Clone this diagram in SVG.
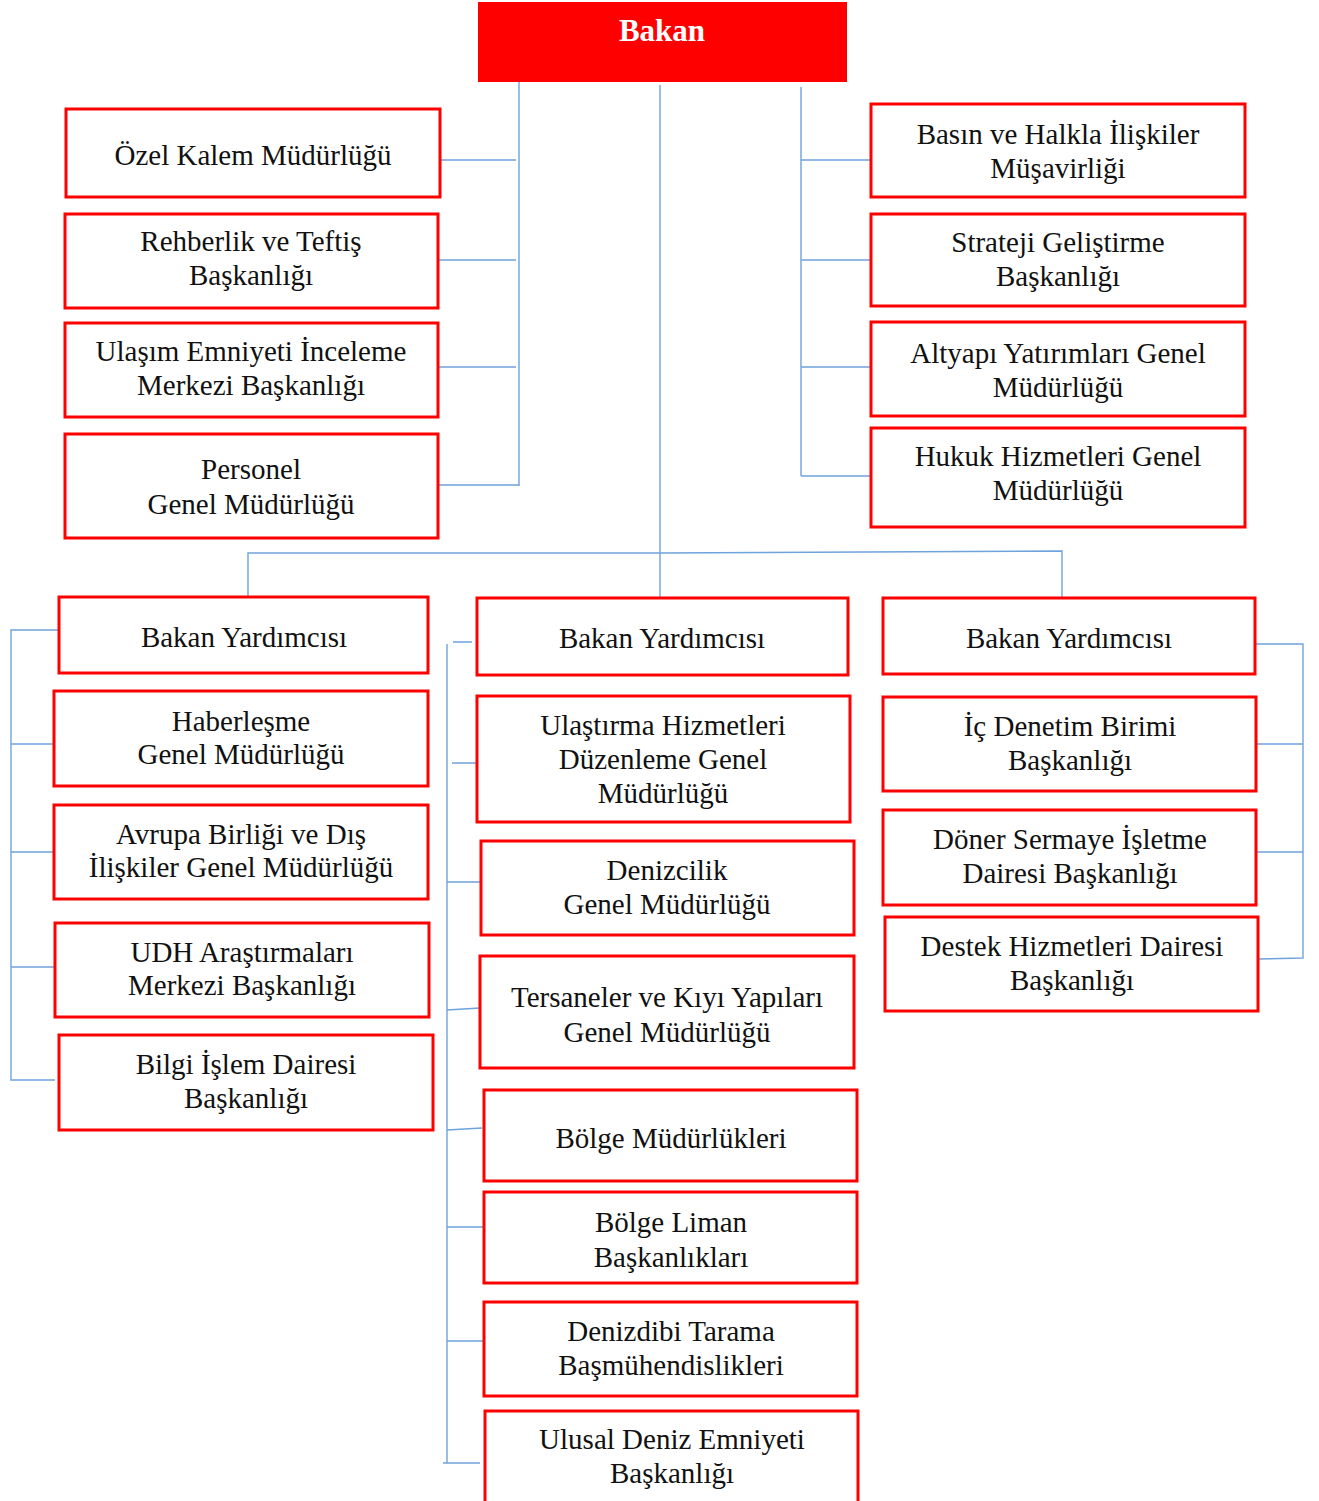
<svg xmlns="http://www.w3.org/2000/svg" width="1319" height="1501" viewBox="0 0 1319 1501">
<style>
.b{fill:#fff;stroke:#ff0000;stroke-width:3}
.t{font-family:"Liberation Serif","Times New Roman",serif;font-size:29px;fill:#111;text-anchor:middle}
.c{fill:none;stroke:#6fa3dc;stroke-width:1.4}
</style>
<rect width="1319" height="1501" fill="#fff"/>
<g id="connectors">
<path class="c" d="M519 79V486M660 85V597M801 87V476"/>
<path class="c" d="M440 160H516M438 260H516M438 367H516M438 485H519"/>
<path class="c" d="M801 160H871M801 260H871M801 367H871M801 476H871"/>
<path class="c" d="M248 597V553H660L1062 551V605"/>
<path class="c" d="M59 630H11V1080H55M11 744H60M11 852H54M11 967H55"/>
<path class="c" d="M453 642H472M447 644V1463H480M452 763H477M447 882H481M447 1010L480 1008M447 1130L482 1128M447 1227H484M447 1341H484M443 1463H447"/>
<path class="c" d="M1255 644H1303V958L1258 959M1256 744H1303M1256 852H1303"/>
</g>
<g id="bakan"><rect x="478" y="2" width="369" height="80" fill="#ff0000"/><text x="662" y="41" style="font-family:'Liberation Serif','Times New Roman',serif;font-size:31px;font-weight:bold;fill:#fff;text-anchor:middle">Bakan</text></g>
<g id="ozel"><rect class="b" x="66" y="109" width="374" height="88"/><text class="t" x="253" y="165">Özel Kalem Müdürlüğü</text></g>
<g id="rehberlik"><rect class="b" x="65" y="214" width="373" height="94"/><text class="t" x="251" y="251">Rehberlik ve Teftiş</text><text class="t" x="251" y="285">Başkanlığı</text></g>
<g id="ulasim"><rect class="b" x="65" y="323" width="373" height="94"/><text class="t" x="251" y="361">Ulaşım Emniyeti İnceleme</text><text class="t" x="251" y="395">Merkezi Başkanlığı</text></g>
<g id="personel"><rect class="b" x="65" y="434" width="373" height="104"/><text class="t" x="251" y="479">Personel</text><text class="t" x="251" y="514">Genel Müdürlüğü</text></g>
<g id="basin"><rect class="b" x="871" y="104" width="374" height="93"/><text class="t" x="1058" y="144">Basın ve Halkla İlişkiler</text><text class="t" x="1058" y="178">Müşavirliği</text></g>
<g id="strateji"><rect class="b" x="871" y="214" width="374" height="92"/><text class="t" x="1058" y="252">Strateji Geliştirme</text><text class="t" x="1058" y="286">Başkanlığı</text></g>
<g id="altyapi"><rect class="b" x="871" y="322" width="374" height="94"/><text class="t" x="1058" y="363">Altyapı Yatırımları Genel</text><text class="t" x="1058" y="397">Müdürlüğü</text></g>
<g id="hukuk"><rect class="b" x="871" y="428" width="374" height="99"/><text class="t" x="1058" y="466">Hukuk Hizmetleri Genel</text><text class="t" x="1058" y="500">Müdürlüğü</text></g>
<g id="by1"><rect class="b" x="59" y="597" width="369" height="76"/><text class="t" x="244" y="647">Bakan Yardımcısı</text></g>
<g id="haberlesme"><rect class="b" x="54" y="691" width="374" height="95"/><text class="t" x="241" y="731">Haberleşme</text><text class="t" x="241" y="764">Genel Müdürlüğü</text></g>
<g id="avrupa"><rect class="b" x="54" y="805" width="374" height="94"/><text class="t" x="241" y="844">Avrupa Birliği ve Dış</text><text class="t" x="241" y="877">İlişkiler Genel Müdürlüğü</text></g>
<g id="udh"><rect class="b" x="55" y="923" width="374" height="94"/><text class="t" x="242" y="962">UDH Araştırmaları</text><text class="t" x="242" y="995">Merkezi Başkanlığı</text></g>
<g id="bilgi"><rect class="b" x="59" y="1035" width="374" height="95"/><text class="t" x="246" y="1074">Bilgi İşlem Dairesi</text><text class="t" x="246" y="1108">Başkanlığı</text></g>
<g id="by2"><rect class="b" x="477" y="598" width="371" height="77"/><text class="t" x="662" y="648">Bakan Yardımcısı</text></g>
<g id="ulastirma"><rect class="b" x="477" y="696" width="373" height="126"/><text class="t" x="663" y="735">Ulaştırma Hizmetleri</text><text class="t" x="663" y="769">Düzenleme Genel</text><text class="t" x="663" y="803">Müdürlüğü</text></g>
<g id="denizcilik"><rect class="b" x="481" y="841" width="373" height="94"/><text class="t" x="667" y="880">Denizcilik</text><text class="t" x="667" y="914">Genel Müdürlüğü</text></g>
<g id="tersaneler"><rect class="b" x="480" y="956" width="374" height="112"/><text class="t" x="667" y="1007">Tersaneler ve Kıyı Yapıları</text><text class="t" x="667" y="1042">Genel Müdürlüğü</text></g>
<g id="bolgemud"><rect class="b" x="484" y="1090" width="373" height="91"/><text class="t" x="671" y="1148">Bölge Müdürlükleri</text></g>
<g id="bolgeliman"><rect class="b" x="484" y="1192" width="373" height="91"/><text class="t" x="671" y="1232">Bölge Liman</text><text class="t" x="671" y="1267">Başkanlıkları</text></g>
<g id="denizdibi"><rect class="b" x="484" y="1302" width="373" height="94"/><text class="t" x="671" y="1341">Denizdibi Tarama</text><text class="t" x="671" y="1375">Başmühendislikleri</text></g>
<g id="ulusal"><rect class="b" x="485" y="1411" width="373" height="100"/><text class="t" x="672" y="1449">Ulusal Deniz Emniyeti</text><text class="t" x="672" y="1483">Başkanlığı</text></g>
<g id="by3"><rect class="b" x="883" y="598" width="372" height="76"/><text class="t" x="1069" y="648">Bakan Yardımcısı</text></g>
<g id="icdenetim"><rect class="b" x="883" y="697" width="373" height="94"/><text class="t" x="1070" y="736">İç Denetim Birimi</text><text class="t" x="1070" y="770">Başkanlığı</text></g>
<g id="doner"><rect class="b" x="883" y="810" width="373" height="95"/><text class="t" x="1070" y="849">Döner Sermaye İşletme</text><text class="t" x="1070" y="883">Dairesi Başkanlığı</text></g>
<g id="destek"><rect class="b" x="885" y="917" width="373" height="94"/><text class="t" x="1072" y="956">Destek Hizmetleri Dairesi</text><text class="t" x="1072" y="990">Başkanlığı</text></g>
</svg>
